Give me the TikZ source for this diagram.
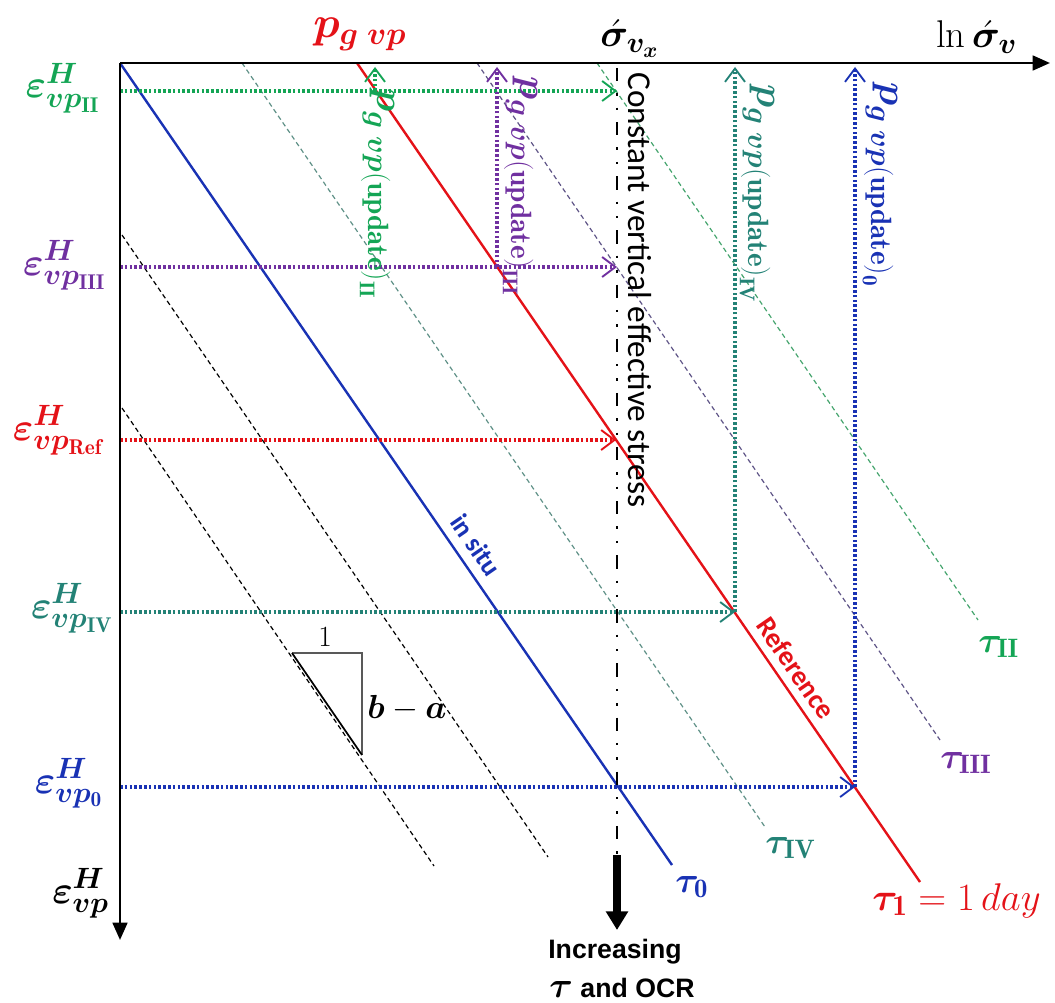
\RequirePackage{fix-cm}
\documentclass[tikz,border=0pt]{standalone}
\usepackage{amsmath,bm}
\usepackage{fontspec}
\newfontfamily\calib{Carlito}
\newfontfamily\arialb{Liberation Sans}
\usetikzlibrary{arrows.meta}
\DeclareMathSizes{29}{29}{22}{16}
\DeclareMathSizes{33}{33}{24}{18}
\DeclareMathSizes{27}{27}{20}{15}
\definecolor{cgreen}{RGB}{20,165,85}
\definecolor{cpurple}{RGB}{112,48,160}
\definecolor{cred}{RGB}{228,18,24}
\definecolor{cteal}{RGB}{35,130,118}
\definecolor{cblue}{RGB}{25,50,180}
\definecolor{dteal}{RGB}{95,145,135}
\definecolor{dpurple}{RGB}{95,85,135}
\definecolor{dgreen}{RGB}{70,165,110}
\begin{document}
\begin{tikzpicture}[x=0.75pt,y=-0.75pt,
  axisline/.style={line width=2pt,-{Triangle[length=13pt,width=11pt]}},
  solidl/.style={line width=1.8pt},
  dashl/.style={line width=0.9pt,dash pattern=on 3.5pt off 2.5pt},
  dotl/.style={line width=2.5pt,dash pattern=on 2pt off 1.6pt,-{Straight Barb[length=10pt,width=15pt,line width'=1.4pt]}},
  dashdotl/.style={line width=2pt,dash pattern=on 10pt off 9pt on 1.8pt off 9pt on 1.8pt off 9pt},
  elab/.style={font=\fontsize{29}{33}\selectfont,inner sep=0pt},
  plab/.style={font=\fontsize{29}{33}\selectfont,inner sep=0pt,rotate=-90,anchor=base west},
  tlab/.style={font=\fontsize{27}{31}\selectfont,inner sep=0pt,anchor=base west},
]
\useasboundingbox (0,0) rectangle (1055,1002);

% key coordinates
\coordinate (O) at (120,63);
\coordinate (Xend) at (1050,63);
\coordinate (Yend) at (120,940);

% black dashed parallels
\coordinate (a1) at (122,235); \coordinate (a2) at (548,857);
\coordinate (b1) at (122,408); \coordinate (b2) at (434,866);
\draw[dashl,black] (a1) -- (a2);
\draw[dashl,black] (b1) -- (b2);
% coloured dashed isochrones
\coordinate (iv1) at (242,63); \coordinate (iv2) at (765,827);
\coordinate (iii1) at (477,63); \coordinate (iii2) at (940,740);
\coordinate (ii1) at (597,63); \coordinate (ii2) at (978,620);
\draw[dashl,dteal] (iv1) -- (iv2);
\draw[dashl,dpurple] (iii1) -- (iii2);
\draw[dashl,dgreen] (ii1) -- (ii2);

% in situ and reference lines
\coordinate (r1) at (357,63); \coordinate (r2) at (920,882);
\coordinate (s2) at (672,865);
\draw[solidl,cblue] (O) -- (s2);
\draw[solidl,cred] (r1) -- (r2);

% horizontal dotted arrows
\coordinate (hII) at (120,91);  \coordinate (hIIe) at (617,91);
\coordinate (hIII) at (120,267); \coordinate (hIIIe) at (617,267);
\coordinate (hRef) at (120,440); \coordinate (hRefe) at (616,440);
\coordinate (hIV) at (120,612);  \coordinate (hIVe) at (735,612);
\coordinate (h0) at (120,787);   \coordinate (h0e) at (855,787);
\draw[dotl,cgreen] (hII) -- (hIIe);
\draw[dotl,cpurple] (hIII) -- (hIIIe);
\draw[dotl,cred] (hRef) -- (hRefe);
\draw[dotl,cteal] (hIV) -- (hIVe);
\draw[dotl,cblue] (h0) -- (h0e);

% vertical dotted arrows
\coordinate (vII) at (375,91);  \coordinate (vIIt) at (375,67);
\coordinate (vIII) at (497,267); \coordinate (vIIIt) at (497,67);
\coordinate (vIV) at (735,612);  \coordinate (vIVt) at (735,67);
\coordinate (v0) at (855,787);   \coordinate (v0t) at (855,67);
\draw[dotl,cgreen] (vII) -- (vIIt);
\draw[dotl,cpurple] (vIII) -- (vIIIt);
\draw[dotl,cteal] (vIV) -- (vIVt);
\draw[dotl,cblue] (v0) -- (v0t);

% constant stress dash-dot line and arrow
\coordinate (c1) at (617,68); \coordinate (c2) at (617,855); \coordinate (c3) at (617,930);
\draw[dashdotl] (c1) -- (c2);
\draw[line width=5.5pt,-{Triangle[length=14pt,width=16pt]}] (c2) -- (c3);

% axes
\draw[axisline] (O) -- (Xend);
\draw[axisline] (O) -- (Yend);

% slope triangle
\coordinate (t1) at (292,653); \coordinate (t2) at (362,653); \coordinate (t3) at (362,755);
\draw[line width=1pt,black!65] (t1) -- (t2) -- (t3);
\draw[line width=1.3pt,black] (t1) -- (t3);
\node[font=\fontsize{22}{24}\selectfont,anchor=base,inner sep=0pt] (one) at (325,646) {1};
\node[font=\fontsize{25}{28}\selectfont,anchor=base west,inner sep=0pt] (ba) at (367,718) {$\bm{b}-\bm{a}$};

% left labels
\node[elab,cgreen,anchor=base east] (eII) at (100,98) {$\bm{\varepsilon}^{\bm{H}}_{\bm{vp}_{\mathbf{II}}}$};
\node[elab,cpurple,anchor=base east] (eIII) at (106,275) {$\bm{\varepsilon}^{\bm{H}}_{\bm{vp}_{\mathbf{III}}}$};
\node[elab,cred,anchor=base east] (eRef) at (103,440) {$\bm{\varepsilon}^{\bm{H}}_{\bm{vp}_{\mathbf{Ref}}}$};
\node[elab,cteal,anchor=base east] (eIV) at (113,618) {$\bm{\varepsilon}^{\bm{H}}_{\bm{vp}_{\mathbf{IV}}}$};
\node[elab,cblue,anchor=base east] (e0) at (103,793) {$\bm{\varepsilon}^{\bm{H}}_{\bm{vp}_{\mathbf{0}}}$};
\node[elab,black,anchor=base east] (eax) at (109,903) {$\bm{\varepsilon}^{\bm{H}}_{\bm{vp}}$};

% top labels
\node[font=\fontsize{33}{36}\selectfont,cred,anchor=base west,inner sep=0pt] (pg) at (313,38) {$\bm{p}_{\bm{g}\;\bm{vp}}$};
\node[font=\fontsize{29}{32}\selectfont,anchor=base west,inner sep=0pt] (sx) at (600,47) {$\acute{\bm{\sigma}}_{\bm{v}_{\bm{x}}}$};
\node[font=\fontsize{29}{32}\selectfont,anchor=base west,inner sep=0pt] (lns) at (936,48) {$\ln\acute{\bm{\sigma}}_{\bm{v}}$};

% rotated p labels
\node[plab,cgreen] (pII) at (377,88) {$\bm{p}_{\bm{g}\;\bm{vp}\mathbf{(update)}_{\mathbf{II}}}$};
\node[plab,cpurple] (pIII) at (520,76) {$\bm{p}_{\bm{g}\;\bm{vp}\mathbf{(update)}_{\mathbf{III}}}$};
\node[plab,cteal] (pIV) at (757,84) {$\bm{p}_{\bm{g}\;\bm{vp}\mathbf{(update)}_{\mathbf{IV}}}$};
\node[plab,cblue] (p0) at (880,82) {$\bm{p}_{\bm{g}\;\bm{vp}\mathbf{(update)}_{\mathbf{0}}}$};

% constant stress text
\node[rotate=-90,anchor=base west,inner sep=0pt,font=\calib\fontsize{25}{30}\selectfont] (cvs) at (628,72) {Constant vertical effective stress};

% line labels
\node[rotate=-55.4,text=cblue,inner sep=0pt,font=\calib\bfseries\fontsize{20}{24}\selectfont] (insitu) at (476,545) {in situ};
\node[rotate=-55.4,text=cred,inner sep=0pt,font=\calib\bfseries\fontsize{21}{24}\selectfont] (refl) at (796,668) {Reference};

% tau labels
\node[tlab,cblue] (t0) at (675,892) {$\bm{\tau}_{\mathbf{0}}$};
\node[tlab,cteal] (tIV) at (765,853) {$\bm{\tau}_{\mathbf{IV}}$};
\node[tlab,cpurple] (tIII) at (940,768) {$\bm{\tau}_{\mathbf{III}}$};
\node[tlab,cgreen] (tII) at (978,652) {$\bm{\tau}_{\mathbf{II}}$};
\node[tlab,cred,font=\fontsize{29}{33}\selectfont] (t1d) at (872,910) {$\bm{\tau}_{\mathbf{1}}=1\,day$};

% bottom text
\node[anchor=base,inner sep=0pt,font=\arialb\bfseries\fontsize{20}{24}\selectfont] (inc) at (615,958) {Increasing};
\node[anchor=base,inner sep=0pt,font=\arialb\bfseries\fontsize{20}{24}\selectfont] (ocr) at (622,997) {{\fontsize{27}{30}\selectfont$\bm{\tau}$} and OCR};
\end{tikzpicture}
\end{document}
